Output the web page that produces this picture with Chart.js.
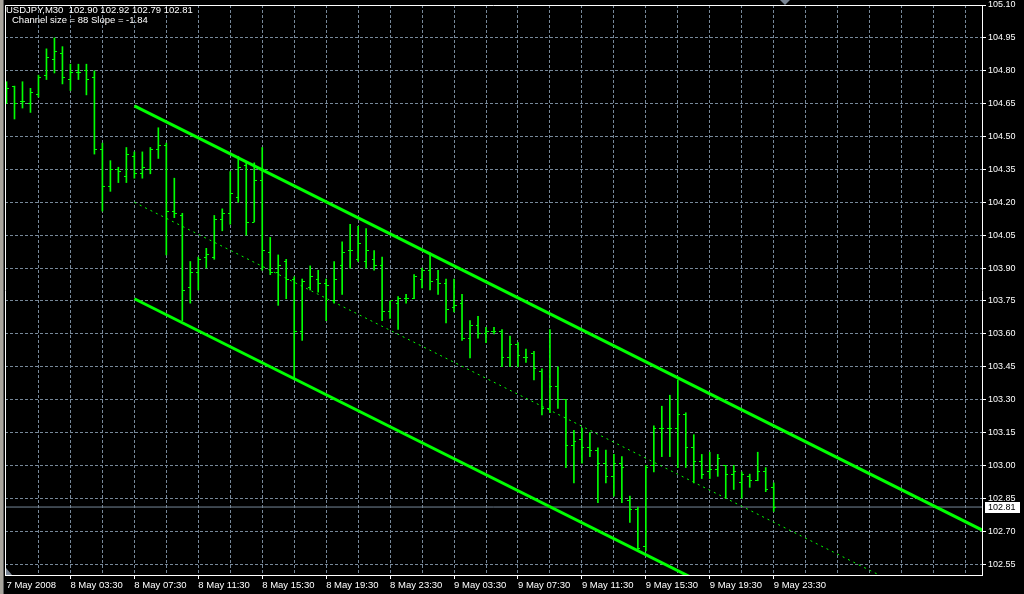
<!DOCTYPE html>
<html><head><meta charset="utf-8">
<script src="https://cdn.jsdelivr.net/npm/chart.js@4.4.1/dist/chart.umd.min.js"></script>
<style>html,body{margin:0;padding:0;background:#000;overflow:hidden}#wrap{width:1024px;height:594px;position:relative}canvas{display:block}</style>
</head><body><div id="wrap"><canvas id="c" width="1024" height="594"></canvas></div>
<script>
// ---- data ----
const symbolInfo = 'USDJPY,M30  102.90 102.92 102.79 102.81';
const channelInfo = 'Channel size = 88 Slope = -1.84';

const barOpen = [104.73,104.73,104.66,104.65,104.69,104.78,104.85,104.88,104.76,104.79,104.80,104.77,104.44,104.27,104.35,104.32,104.41,104.33,104.35,104.44,104.46,104.16,104.14,103.81,103.88,103.95,103.95,104.12,104.15,104.22,104.37,104.11,104.30,103.97,103.88,103.93,103.85,103.61,103.81,103.85,103.83,103.75,103.91,103.98,103.94,103.93,103.94,103.91,103.70,103.74,103.76,103.76,103.85,103.89,103.85,103.83,103.72,103.74,103.58,103.64,103.60,103.61,103.61,103.49,103.55,103.49,103.51,103.43,103.26,103.36,103.30,103.09,103.12,103.08,103.07,103.01,102.95,103.01,102.84,102.80,102.63,103.00,103.17,103.17,103.17,103.23,103.08,103.02,102.97,102.98,103.00,102.96,102.92,102.95,102.93,102.97,102.90];
const barHigh = [104.75,104.73,104.75,104.72,104.78,104.90,104.95,104.91,104.83,104.83,104.83,104.80,104.47,104.39,104.36,104.45,104.43,104.43,104.45,104.54,104.47,104.31,104.15,103.93,103.95,103.99,104.14,104.17,104.34,104.41,104.38,104.38,104.45,104.04,103.96,103.94,103.86,103.85,103.91,103.89,103.85,103.93,104.02,104.10,104.09,104.08,103.98,103.95,103.75,103.77,103.78,103.87,103.90,103.97,103.89,103.85,103.85,103.78,103.66,103.68,103.63,103.63,103.62,103.59,103.56,103.53,103.52,103.44,103.62,103.45,103.30,103.16,103.17,103.15,103.08,103.07,103.05,103.04,102.86,102.81,103.00,103.18,103.27,103.32,103.39,103.24,103.14,103.05,103.06,103.05,103.00,103.00,102.97,102.96,103.06,102.99,102.92];
const barLow = [104.65,104.58,104.63,104.61,104.68,104.76,104.79,104.74,104.71,104.76,104.69,104.42,104.16,104.25,104.29,104.29,104.31,104.31,104.33,104.40,103.96,104.13,103.66,103.74,103.80,103.90,103.94,104.07,104.10,104.20,104.05,104.11,103.89,103.87,103.73,103.76,103.40,103.57,103.80,103.79,103.66,103.74,103.78,103.90,103.93,103.90,103.89,103.66,103.67,103.62,103.74,103.76,103.81,103.80,103.78,103.65,103.70,103.57,103.49,103.58,103.56,103.60,103.45,103.45,103.45,103.47,103.39,103.23,103.24,103.26,102.99,102.92,103.01,103.04,102.83,102.92,102.86,102.83,102.74,102.61,102.61,102.97,103.04,103.04,102.99,102.99,102.92,102.94,102.94,102.95,102.85,102.89,102.85,102.90,102.93,102.88,102.79];
const barClose = [104.72,104.65,104.66,104.70,104.77,104.86,104.89,104.77,104.79,104.79,104.76,104.44,104.27,104.35,104.34,104.42,104.33,104.36,104.44,104.46,104.16,104.15,103.80,103.88,103.94,103.96,104.12,104.15,104.24,104.36,104.11,104.30,103.98,103.88,103.91,103.85,103.61,103.84,103.86,103.83,103.82,103.85,103.97,103.98,104.01,103.98,103.91,103.70,103.75,103.76,103.76,103.86,103.89,103.84,103.83,103.71,103.73,103.58,103.64,103.60,103.61,103.61,103.49,103.55,103.50,103.49,103.44,103.26,103.36,103.30,103.09,103.11,103.08,103.07,103.01,102.95,103.01,102.99,102.80,102.62,102.99,103.17,103.17,103.17,103.23,103.08,103.02,102.96,102.98,103.03,102.96,102.97,102.96,102.93,102.97,102.89,102.81];

const xLabelIdx = [0,8,16,24,32,40,48,56,64,72,80,88,96];
const xLabels = ['7 May 2008','8 May 03:30','8 May 07:30','8 May 11:30','8 May 15:30','8 May 19:30','8 May 23:30','9 May 03:30','9 May 07:30','9 May 11:30','9 May 15:30','9 May 19:30','9 May 23:30'];
const xGridIdx = [0,4,8,12,16,20,24,28,32,36,40,44,48,52,56,60,64,68,72,76,80,84,88,92,96,100,104,108,112,116,120];
const yTicks = [102.55,102.70,102.85,103.00,103.15,103.30,103.45,103.60,103.75,103.90,104.05,104.20,104.35,104.50,104.65,104.80,104.95,105.10];

const channelIdx = [16, 124];
const channelUpper = [104.64, 102.67];
const channelMid = [104.20, 102.23];
const channelLower = [103.76, 101.79];
const bidPrice = 102.81;

// ---- styling ----
const X_MIN = -0.1875, X_MAX = 122.0625;
const Y_MIN = 102.50, Y_MAX = 105.10;
const GREEN = '#00ff00';
const GRID = '#778899';
const FONT = '"Liberation Sans", Arial, sans-serif';

function tickImg(side){
  const c = document.createElement('canvas');
  c.width = 7; c.height = 1;
  const g = c.getContext('2d');
  g.fillStyle = GREEN;
  if (side === 'L') g.fillRect(1,0,2,1); else g.fillRect(4,0,2,1);
  return c;
}
const openImg = tickImg('L');
const closeImg = tickImg('R');
const idx = barOpen.map((_, i) => i);

const decor = {
  id: 'decor',
  beforeDraw(chart){
    const ctx = chart.ctx;
    ctx.save();
    ctx.fillStyle = '#000';
    ctx.fillRect(0,0,chart.width,chart.height);
    ctx.fillStyle = '#a8a49c';
    ctx.fillRect(0,0,3,chart.height);
    ctx.fillStyle = '#5a5a5a';
    ctx.fillRect(3,0,1,chart.height);
    ctx.restore();
  },
  beforeDatasetsDraw(chart){ chart.ctx.imageSmoothingEnabled = false; },
  afterDraw(chart){
    const ctx = chart.ctx, a = chart.chartArea, ys = chart.scales.y;
    ctx.save();
    ctx.strokeStyle = '#ffffff'; ctx.lineWidth = 1;
    ctx.beginPath();
    ctx.moveTo(a.left + 0.5, a.bottom); ctx.lineTo(a.left + 0.5, a.top + 0.5); ctx.lineTo(a.right, a.top + 0.5);
    ctx.stroke();
    // header texts
    ctx.fillStyle = '#ffffff';
    ctx.font = '9.5px ' + FONT;
    ctx.textBaseline = 'alphabetic'; ctx.textAlign = 'left';
    ctx.fillText(symbolInfo, 6, 13);
    ctx.fillText(channelInfo, 12, 23);
    // top price label
    ctx.font = '9px ' + FONT;
    ctx.textBaseline = 'middle';
    ctx.fillText(Y_MAX.toFixed(2), a.right + 6, 5);
    // bid label
    const by = Math.round(ys.getPixelForValue(bidPrice));
    ctx.fillStyle = '#ffffff';
    ctx.fillRect(a.right + 3, by - 5, 35, 11);
    ctx.fillStyle = '#000000';
    ctx.fillText(bidPrice.toFixed(2), a.right + 6, by + 0.5);
    // shift markers
    ctx.fillStyle = '#7a8594';
    ctx.beginPath(); ctx.moveTo(a.left + 1, a.bottom - 7); ctx.lineTo(a.left + 1, a.bottom); ctx.lineTo(a.left + 7, a.bottom); ctx.closePath(); ctx.fill();
    ctx.beginPath(); ctx.moveTo(780, 0); ctx.lineTo(790, 0); ctx.lineTo(785, 5); ctx.closePath(); ctx.fill();
    ctx.restore();
  }
};

new Chart(document.getElementById('c'), {
  type: 'bar',
  data: {
    datasets: [
      { type: 'line', data: channelIdx.map((x,k)=>({x, y: channelUpper[k]})), borderColor: GREEN, borderWidth: 3, pointRadius: 0, order: 0 },
      { type: 'line', data: channelIdx.map((x,k)=>({x, y: channelLower[k]})), borderColor: GREEN, borderWidth: 3, pointRadius: 0, order: 0 },
      { type: 'line', data: channelIdx.map((x,k)=>({x, y: channelMid[k]})), borderColor: GREEN, borderWidth: 1, borderDash: [2,4], pointRadius: 0, order: 0 },
      { type: 'scatter', data: idx.map(i=>({x:i, y: barOpen[i]})), pointStyle: openImg, pointRadius: 1, order: 1 },
      { type: 'scatter', data: idx.map(i=>({x:i, y: barClose[i]})), pointStyle: closeImg, pointRadius: 1, order: 1 },
      { type: 'bar', data: idx.map(i=>({x:i, y: [barLow[i], barHigh[i]]})), backgroundColor: GREEN, borderWidth: 0, barThickness: 1, order: 1 },
      { type: 'line', data: [{x: X_MIN, y: bidPrice}, {x: X_MAX, y: bidPrice}], borderColor: GRID, borderWidth: 1, pointRadius: 0, order: 2 }
    ]
  },
  options: {
    responsive: false,
    devicePixelRatio: 1,
    animation: false,
    events: [],
    layout: { padding: { left: 4, top: 2, right: 0, bottom: 0 } },
    plugins: { legend: { display: false }, tooltip: { enabled: false }, title: { display: false } },
    scales: {
      x: {
        type: 'linear', position: 'bottom', min: X_MIN, max: X_MAX, offset: false,
        grid: {
          offset: false, lineWidth: 1, tickLength: 4,
          color: (c) => (c.tick && c.tick.value === 0) ? 'rgba(0,0,0,0)' : GRID,
          tickColor: (c) => (c.tick && c.tick.value > 0 && xLabelIdx.indexOf(c.tick.value) >= 0) ? '#ffffff' : 'rgba(0,0,0,0)'
        },
        border: { display: true, color: '#ffffff', width: 1, dash: [3,2] },
        ticks: {
          autoSkip: false, maxRotation: 0, minRotation: 0, align: 'start', padding: 1,
          color: '#ffffff', font: { family: FONT, size: 9.5 },
          callback: (v) => { const k = xLabelIdx.indexOf(v); return k >= 0 ? xLabels[k] : ''; }
        },
        afterBuildTicks: (s) => { s.ticks = xGridIdx.map(v => ({ value: v })); },
        afterFit: (s) => { s.height = 19; s.paddingLeft = 0; s.paddingRight = 0; }
      },
      y: {
        type: 'linear', position: 'right', min: Y_MIN, max: Y_MAX, beginAtZero: false,
        grid: { color: GRID, lineWidth: 1, tickLength: 4, tickColor: '#ffffff' },
        border: { display: true, color: '#ffffff', width: 1, dash: [3,2] },
        ticks: {
          padding: 2, color: '#ffffff', font: { family: FONT, size: 9 },
          callback: (v) => (Math.abs(v - Y_MAX) < 1e-6) ? '' : Number(v).toFixed(2)
        },
        afterBuildTicks: (s) => { s.ticks = yTicks.map(v => ({ value: v })); },
        afterFit: (s) => { s.width = 42; s.paddingTop = 0; s.paddingBottom = 0; }
      }
    }
  },
  plugins: [decor]
});
</script>
</body></html>
